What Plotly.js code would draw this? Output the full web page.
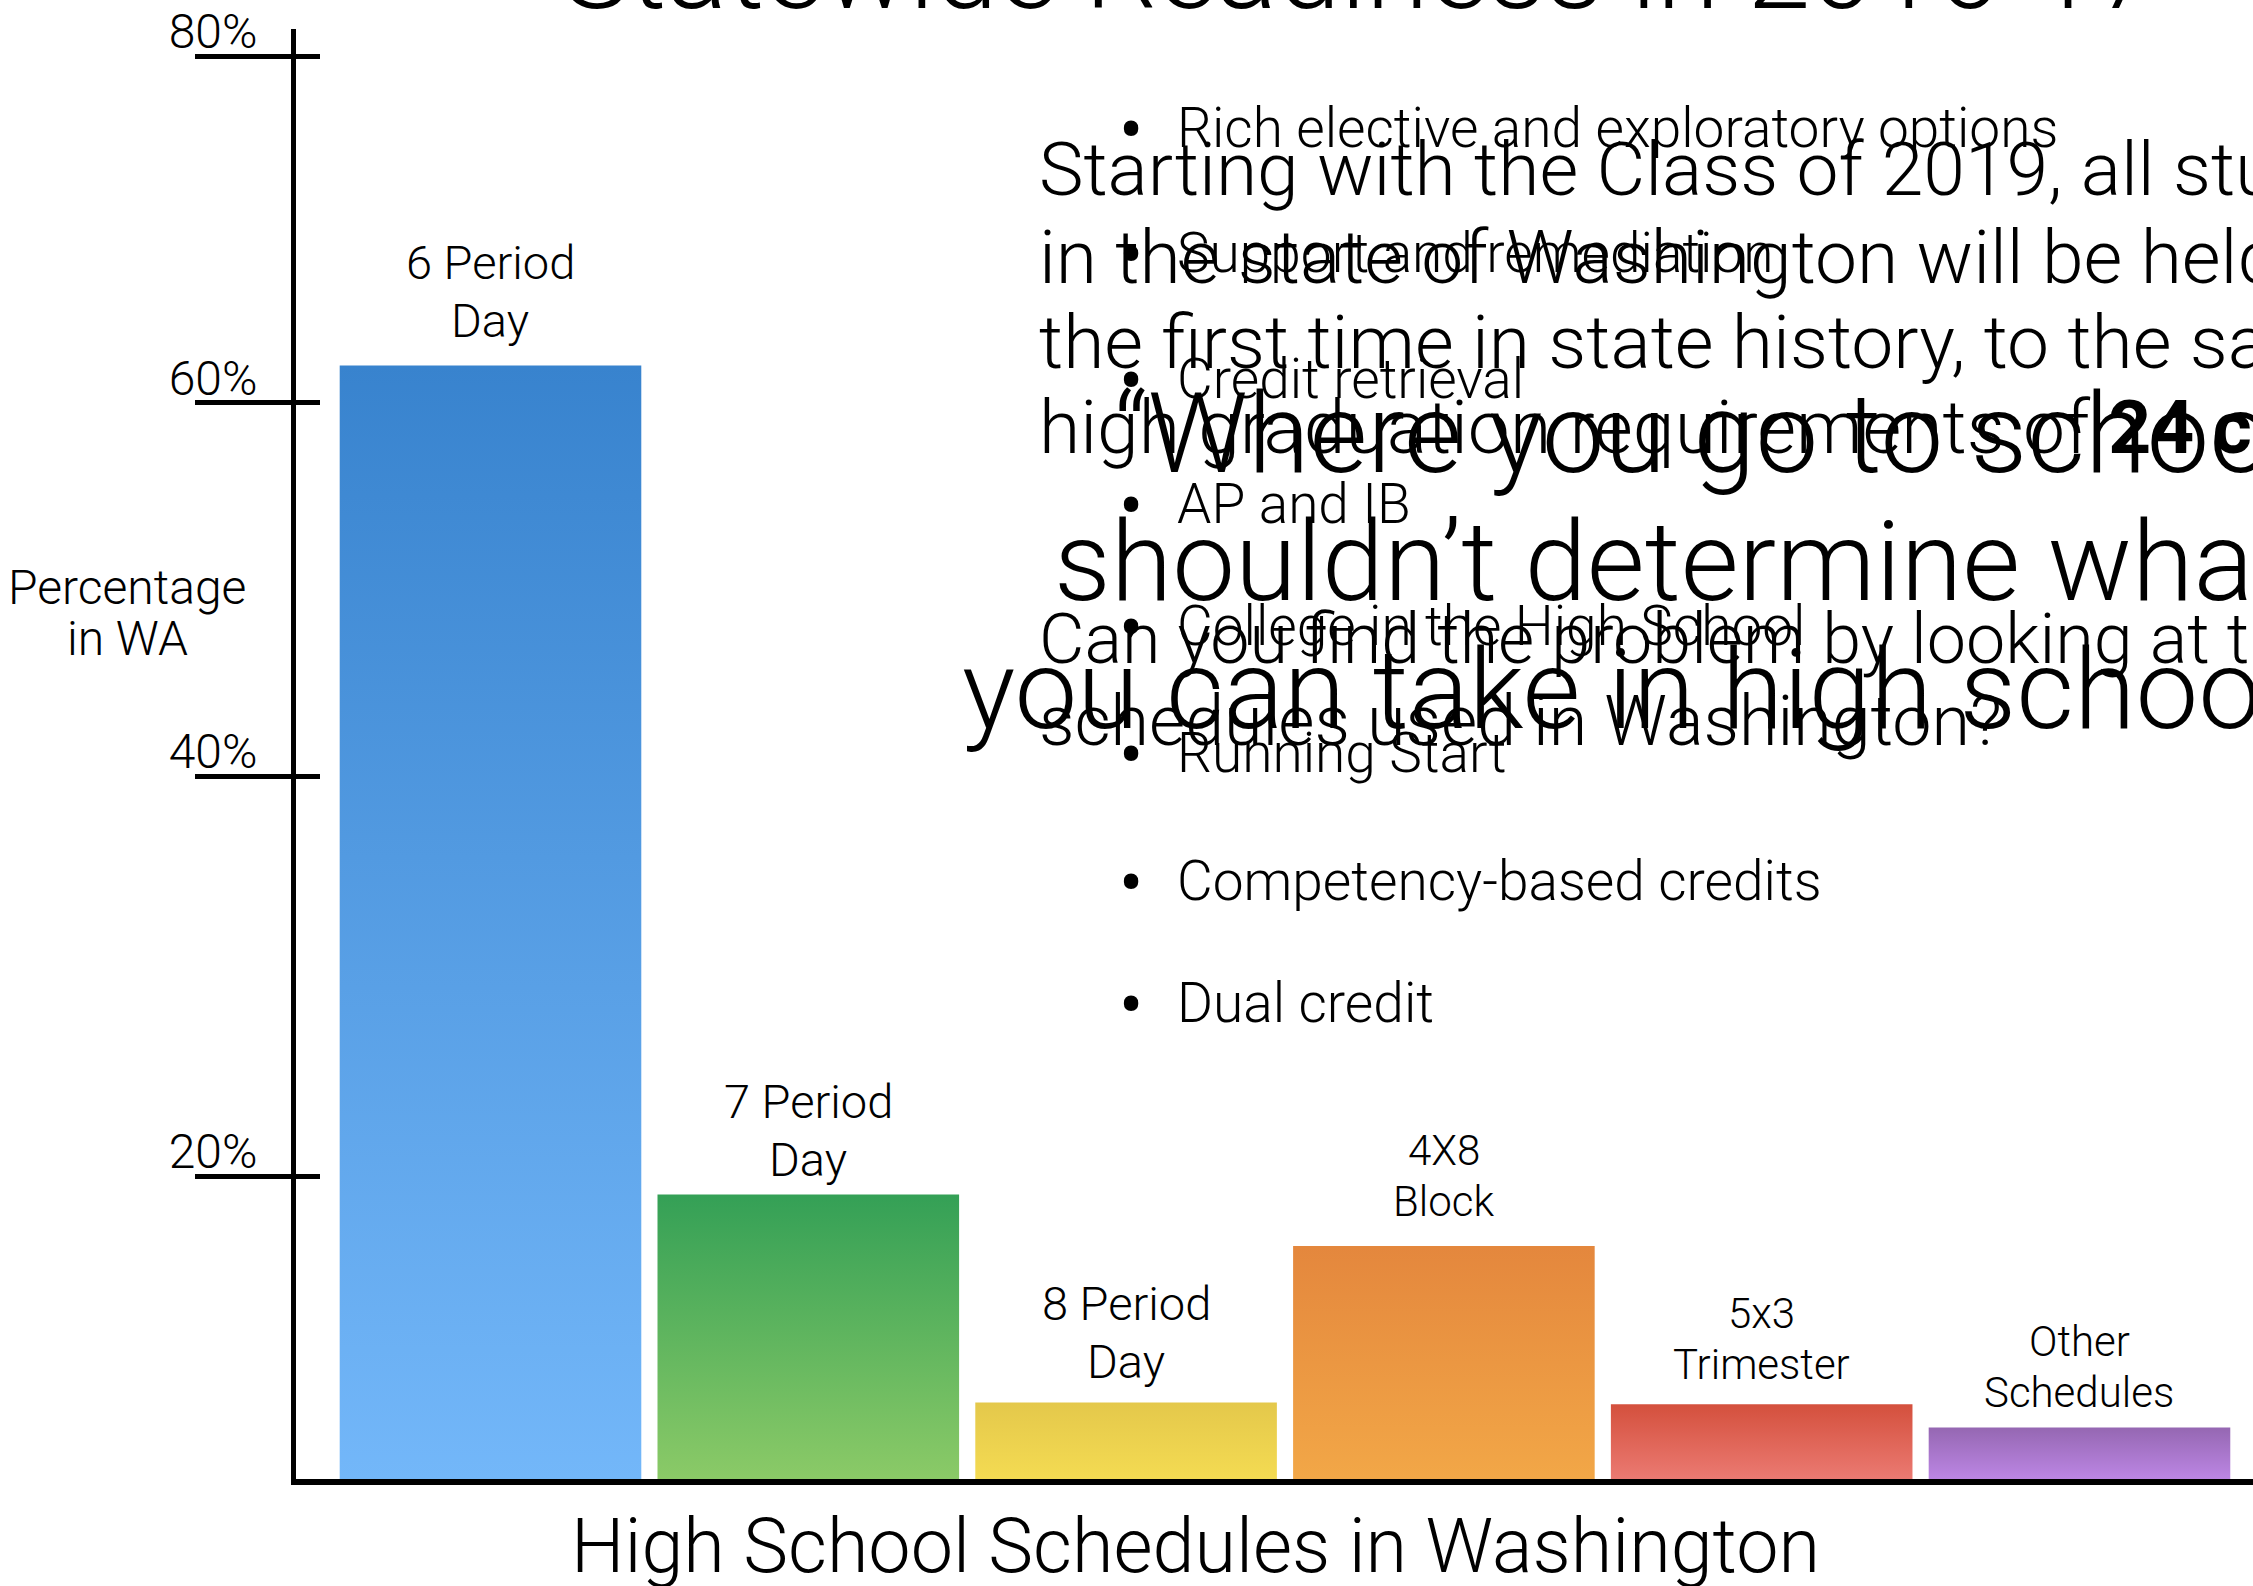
<!DOCTYPE html>
<html>
<head>
<meta charset="utf-8">
<script src="https://cdn.plot.ly/plotly-3.0.1.min.js"></script>
<style>
  html, body { margin: 0; padding: 0; background: #fff; }
  #chart { width: 2253px; height: 1586px; }
</style>
</head>
<body>
<div id="chart"></div>
<script>
// ---------------- data ----------------
const categories = ["6 Period Day", "7 Period Day", "8 Period Day", "4X8 Block", "5x3 Trimester", "Other Schedules"];
const labelLine1 = ["6 Period", "7 Period", "8 Period", "4X8", "5x3", "Other"];
const labelLine2 = ["Day", "Day", "Day", "Block", "Trimester", "Schedules"];
const percentInWA = [62.6, 16.0, 4.3, 13.1, 4.2, 2.9];
const tickValues = [17.0, 39.5, 60.5, 80];
const tickLabels = ["20%", "40%", "60%", "80%"];
const xAxisTitle = "High School Schedules in Washington";
const yAxisTitleLines = ["Percentage", "in WA"];
const slideTitle = "Statewide Readiness in 2016-17";
const bulletItems = ["Rich elective and exploratory options", "Support and remediation", "Credit retrieval", "AP and IB",
  "College in the High School", "Running Start", "Competency-based credits", "Dual credit"];
const paragraphLines = ["Starting with the Class of 2019, all students", "in the state of Washington will be held, for",
  "the first time in state history, to the same", "high graduation requirements of <b>24 credits</b>."];
const questionLines = ["Can you find the problem by looking at the", "schedules used in Washington?"];
const quoteLines = ["\u201CWhere you go to school", "shouldn\u2019t determine what", "you can take in high school.\u201D"];

// ---------------- styles ----------------
const barTop = ["#3883CE", "#34A056", "#E4C84B", "#E4873D", "#D4503D", "#9567B2"];
const barBottom = ["#73B7F9", "#8BCA67", "#F4DB52", "#F2A747", "#EB7A72", "#BC86E4"];
const barMid = ["#569DE4", "#5FB55E", "#ECD14E", "#EB9742", "#DF6557", "#A876CB"];
const labelSizes = [47, 47, 47, 42, 42, 42];
const labelLineGap = [58, 58, 58, 51, 51, 51];
const labelShift = [16, 5, 12, 18, 13, 8];
const FONT = "Roboto, 'Liberation Sans', Arial, sans-serif";

const W = 2253, H = 1586;
const L = 296, R = 2253, T = 29, B = 1479;
const px2x = p => (p - L) / (R - L);
const py2y = p => (B - p) / (B - T);

function txt(text, xpx, basePx, size, anchor, weight) {
  return {
    text: text, xref: "paper", yref: "paper",
    x: px2x(xpx), y: py2y(basePx - 0.34 * size),
    xanchor: anchor || "left", yanchor: "middle",
    showarrow: false, align: anchor === "center" ? "center" : "left",
    font: { family: FONT, size: size, color: "#000", weight: weight || 300 }
  };
}

const annotations = [];
// slide title (mostly off the top)
annotations.push(txt(slideTitle, 560, 8, 114));
// bullets
const bulletBase = [147, 272, 398, 523, 645, 772, 900, 1022];
bulletItems.forEach((b, i) => {
  annotations.push(txt("\u2022", 1131, bulletBase[i] + 8, 72, "center", 400));
  annotations.push(txt(b, 1175, bulletBase[i], 55));
});
// paragraph
const paraBase = [195, 282, 367, 452];
paragraphLines.forEach((p, i) => annotations.push(txt(p, 1037, paraBase[i], 75)));
const qBase = [663, 745];
questionLines.forEach((p, i) => annotations.push(txt(p, 1037, qBase[i], 70)));
// quote
const quoteX = [1112, 1052, 960], quoteBase = [472, 600, 728];
quoteLines.forEach((p, i) => annotations.push(txt(p, quoteX[i], quoteBase[i], 112)));
// axis titles
annotations.push(txt(xAxisTitle, 569, 1572, 75.5));
annotations.push(txt(yAxisTitleLines[0], 127, 604, 48, "center"));
annotations.push(txt(yAxisTitleLines[1], 127, 655, 48, "center"));
// bar labels anchored to data (two lines each)
categories.forEach((c, i) => {
  const f = { family: FONT, size: labelSizes[i], color: "#000", weight: 300 };
  annotations.push({
    text: labelLine2[i], xref: "x", yref: "y", x: c, y: percentInWA[i],
    xanchor: "center", yanchor: "bottom", yshift: labelShift[i], showarrow: false, font: f
  });
  annotations.push({
    text: labelLine1[i], xref: "x", yref: "y", x: c, y: percentInWA[i],
    xanchor: "center", yanchor: "bottom", yshift: labelShift[i] + labelLineGap[i], showarrow: false, font: f
  });
});

const traces = [
  {
    type: "bar", x: categories, y: percentInWA,
    marker: { color: barMid, line: { width: 0 } },
    hoverinfo: "skip", showlegend: false
  },
  {
    type: "scatter", mode: "none", x: categories, y: percentInWA, yaxis: "y2",
    hoverinfo: "skip", showlegend: false
  }
];

const layout = {
  width: W, height: H,
  margin: { l: L, r: W - R, t: T, b: H - B, pad: 0 },
  paper_bgcolor: "#fff", plot_bgcolor: "#fff",
  bargap: 0.051,
  showlegend: false,
  xaxis: {
    type: "category", categoryorder: "array", categoryarray: categories,
    range: [-0.612, 5.546], showticklabels: false, ticks: "",
    showline: true, linewidth: 6, linecolor: "#000",
    showgrid: false, zeroline: false, automargin: false, fixedrange: true
  },
  yaxis: {
    range: [0, 81.52], tickvals: tickValues, ticktext: tickLabels,
    ticks: "inside", ticklen: 24, tickwidth: 5, tickcolor: "#000",
    showline: true, linewidth: 5, linecolor: "#000",
    showgrid: false, zeroline: false, automargin: false,
    ticklabelstandoff: 24, ticklabelshift: -25,
    tickfont: { family: FONT, size: 48, color: "#000", weight: 300 }
  },
  yaxis2: {
    overlaying: "y", side: "left", range: [0, 81.52], tickvals: tickValues,
    ticks: "outside", ticklen: 100, tickwidth: 5, tickcolor: "#000",
    showticklabels: false, showline: false, showgrid: false, zeroline: false, automargin: false
  },
  annotations: annotations
};

Plotly.newPlot("chart", traces, layout, { staticPlot: true, displayModeBar: false }).then(gd => {
  // apply vertical gradients to the bars drawn by Plotly
  const svg = gd.querySelector(".main-svg");
  const NS = "http://www.w3.org/2000/svg";
  let defs = svg.querySelector("defs");
  if (!defs) { defs = document.createElementNS(NS, "defs"); svg.insertBefore(defs, svg.firstChild); }
  barTop.forEach((top, i) => {
    const g = document.createElementNS(NS, "linearGradient");
    g.setAttribute("id", "bargrad" + i);
    g.setAttribute("x1", "0"); g.setAttribute("y1", "0"); g.setAttribute("x2", "0"); g.setAttribute("y2", "1");
    const s1 = document.createElementNS(NS, "stop"); s1.setAttribute("offset", "0"); s1.setAttribute("stop-color", top);
    const s2 = document.createElementNS(NS, "stop"); s2.setAttribute("offset", "1"); s2.setAttribute("stop-color", barBottom[i]);
    g.appendChild(s1); g.appendChild(s2); defs.appendChild(g);
  });
  const paths = gd.querySelectorAll(".barlayer .trace .point path");
  paths.forEach((p, i) => { p.style.fill = "url(#bargrad" + i + ")"; });
});
</script>
</body>
</html>
